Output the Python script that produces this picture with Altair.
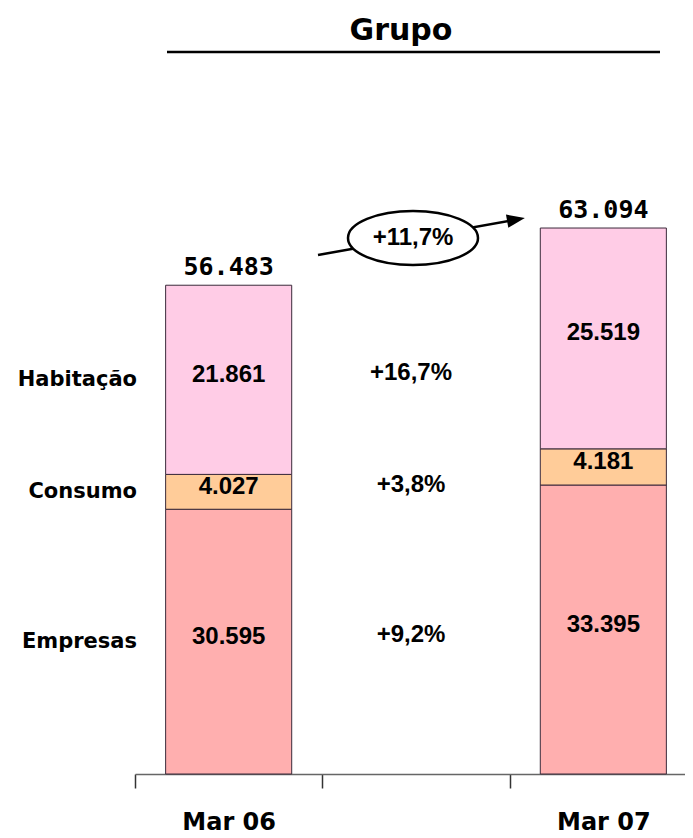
import altair as alt
import pandas as pd

# ---- data ----
title_text = "Grupo"
periods = ["Mar 06", "Mar 07"]
segments = ["Empresas", "Consumo", "Habitação"]
mar06 = [30.595, 4.027, 21.861]
mar07 = [33.395, 4.181, 25.519]
totals = [56.483, 63.094]
growth = ["+9,2%", "+3,8%", "+16,7%"]
total_growth = "+11,7%"
seg_colors = ["#FFAFAF", "#FFCC99", "#FFCCE6"]

MID = "Δ"  # blank middle category that holds the growth labels
x_domain = [periods[0], MID, periods[1]]

# ---- build tables ----
rows = []
for p, vals in zip(periods, [mar06, mar07]):
    lo = 0.0
    for s, v in zip(segments, vals):
        rows.append({"period": p, "segment": s, "lo": lo, "hi": lo + v,
                     "mid": lo + v / 2, "label": f"{v:.3f}"})
        lo += v
bars = pd.DataFrame(rows)

tot = pd.DataFrame({"period": periods, "total": totals,
                    "label": [f"{t:.3f}" for t in totals]})

b06 = bars[bars["period"] == periods[0]].copy()
b06["growth"] = growth
b06["mid_cat"] = MID

ell = pd.DataFrame({"cat": [MID], "label": [total_growth], "title": [title_text]})

# the category axis runs slightly past the right edge, as in the reference
xscale = alt.Scale(domain=x_domain, paddingInner=0, paddingOuter=0, range=[0, 562])
yscale = alt.Scale(domain=[0, 80.2], nice=False, zero=True)

xaxis = alt.Axis(title=None, labelAngle=0, labelFont="DejaVu Sans",
                 labelFontSize=24, labelFontWeight="bold", labelColor="black",
                 tickSize=14, tickColor="#333333", tickWidth=1.5,
                 domainColor="#666666", domainWidth=1.5, tickBand="extent",
                 labelPadding=22, grid=False,
                 labelExpr=f"datum.label == '{MID}' ? '' : datum.label")

base_bars = alt.Chart(bars)

bar_layer = base_bars.mark_bar(stroke="#3a2a3a", strokeWidth=1,
                               width=alt.RelativeBandSize(0.673)).encode(
    x=alt.X("period:N", scale=xscale, axis=xaxis),
    y=alt.Y("lo:Q", scale=yscale, axis=None),
    y2="hi:Q",
    color=alt.Color("segment:N", scale=alt.Scale(domain=segments, range=seg_colors), legend=None),
)

seg_text = base_bars.mark_text(font="Liberation Sans", fontSize=24,
                               fontWeight="bold", color="black", dy=-5).encode(
    x=alt.X("period:N", scale=xscale),
    y=alt.Y("mid:Q", scale=yscale, axis=None),
    text="label:N",
)

tot_text = alt.Chart(tot).mark_text(font="DejaVu Sans Mono", fontSize=25,
                                    fontWeight="bold", color="black",
                                    baseline="alphabetic", dy=-10).encode(
    x=alt.X("period:N", scale=xscale),
    y=alt.Y("total:Q", scale=yscale, axis=None),
    text="label:N",
)

left_labels = alt.Chart(b06).mark_text(font="DejaVu Sans", fontSize=21,
                                       fontWeight="bold", color="black",
                                       align="right").encode(
    x=alt.value(2),
    y=alt.Y("mid:Q", scale=yscale, axis=None),
    text="segment:N",
)

growth_text = alt.Chart(b06).mark_text(font="Liberation Sans", fontSize=24,
                                       fontWeight="bold", color="black", dy=-7,
                                       dx=-5).encode(
    x=alt.X("mid_cat:N", scale=xscale),
    y=alt.Y("mid:Q", scale=yscale, axis=None),
    text="growth:N",
)

# arrow from Mar 06 total towards Mar 07 total
arrow_line = alt.Chart(ell).mark_rule(color="black", strokeWidth=2.5).encode(
    x=alt.value(183), x2=alt.value(381), y=alt.value(175), y2=alt.value(139.6)
)
arrow_head = alt.Chart(ell).mark_point(
    shape="M 1 0 L -1 -0.75 L -1 0.75 Z", filled=True, color="black",
    size=324, angle=350, opacity=1).encode(
    x=alt.value(381), y=alt.value(139.6)
)

ellipse = alt.Chart(ell).mark_point(
    shape="M -1 0 A 1 0.415 0 1 0 1 0 A 1 0.415 0 1 0 -1 0 Z",
    filled=True, fill="white", stroke="black", strokeWidth=2.5,
    size=16900, opacity=1, xOffset=-3).encode(
    x=alt.X("cat:N", scale=xscale),
    y=alt.value(158),
)
ellipse_text = alt.Chart(ell).mark_text(font="Liberation Sans", fontSize=24,
                                        fontWeight="bold", color="black",
                                        dx=-3).encode(
    x=alt.X("cat:N", scale=xscale),
    y=alt.value(158),
    text="label:N",
)

title_mark = alt.Chart(ell).mark_text(font="DejaVu Sans", fontSize=30,
                                      fontWeight="bold", color="black",
                                      baseline="alphabetic").encode(
    x=alt.value(266), y=alt.value(-40), text="title:N"
)

underline = alt.Chart(ell).mark_rule(color="black", strokeWidth=2.5).encode(
    x=alt.value(32), x2=alt.value(525), y=alt.value(-28)
)

chart = alt.layer(
    bar_layer, seg_text, tot_text, left_labels, growth_text,
    arrow_line, arrow_head, ellipse, ellipse_text, title_mark, underline,
).properties(
    width=550, height=694,
    autosize=alt.AutoSizeParams(type="none"),
    padding={"left": 127, "top": 72, "right": 0, "bottom": 64},
    background="white",
).configure_view(strokeWidth=0, stroke="transparent")

chart.save("out.html", embed_options={"renderer": "svg", "actions": False})
